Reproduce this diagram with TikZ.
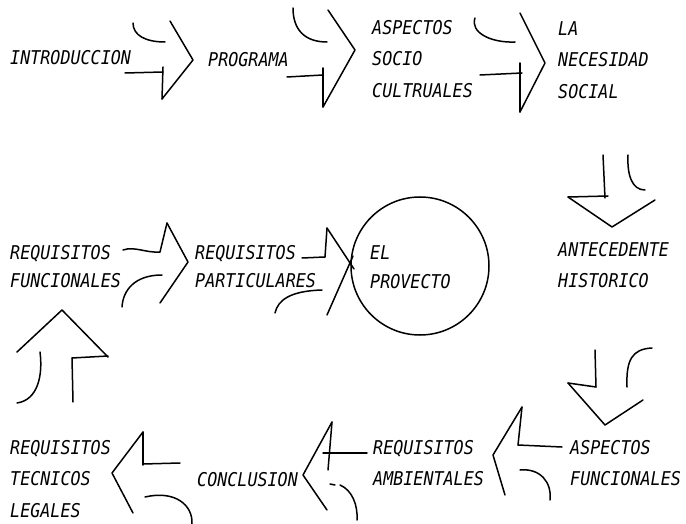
\documentclass[tikz,border=0pt]{standalone}
\usepackage{fontspec}
\newfontfamily\letra[FakeStretch=0.88]{DejaVu Sans Mono}
\begin{document}
\begin{tikzpicture}[x=1pt,y=-1pt]

          \useasboundingbox (0,0) rectangle (686,524);

          \begin{scope}[every node/.style={anchor=north west,inner sep=0pt,align=left,
              font=\fontsize{19}{31.5}\selectfont\letra\itshape}]
            \node (intro)        at (10,50)   {INTRODUCCION};
            \node (programa)     at (208,52)  {PROGRAMA};
            \node (socio)        at (372,20)  {ASPECTOS\\SOCIO\\CULTRUALES};
            \node (necesidad)    at (558,21)  {LA\\NECESIDAD\\SOCIAL};
            \node (antecedente)  at (558,242) {ANTECEDENTE\\HISTORICO};
            \node (asfun)        at (570,440) {ASPECTOS\\FUNCIONALES};
            \node (ambientales)  at (373,440) {REQUISITOS\\AMBIENTALES};
            \node (conclusion)   at (197,472) {CONCLUSION};
            \node (tecnicos)     at (10,440)  {REQUISITOS\\TECNICOS\\LEGALES};
            \node (reqfun)       at (10,245)  {REQUISITOS\\[-3.5pt]FUNCIONALES};
            \node (particulares) at (195,245) {REQUISITOS\\[-3.5pt]PARTICULARES};
            \node (el)           at (370,245) {EL\\[-2pt]PROVECTO};
          \end{scope}

          \node[draw,circle,line width=1.5pt,minimum size=138pt,inner sep=0pt] (circulo) at (420,266) {};

          \begin{scope}[line width=1.5pt,line cap=round,line join=round]
            % introduccion -> programa
            \draw (133,23) .. controls (133,35) and (145,42) .. (165,42);
            \draw (125,73) -- (163,72);
            \draw (163,67) -- (162,99);
            \draw (170,21) -- (193,60) -- (162,99);
            % programa -> aspectos
            \draw (293,8) .. controls (293,30) and (305,42) .. (327,42);
            \draw (287,77) -- (323,75);
            \draw (323,68) -- (323,107);
            \draw (328,10) -- (355,50) -- (323,107);
            % aspectos -> necesidad
            \draw (475,18) .. controls (470,32) and (490,43) .. (515,42);
            \draw (480,75) -- (522,73);
            \draw (520,63) -- (520,112);
            \draw (520,13) -- (545,63) -- (520,112);
            % necesidad -> antecedente
            \draw (603,155) -- (605,198);
            \draw (568,197) -- (608,196);
            \draw (628,155) .. controls (627,175) and (632,190) .. (645,190);
            \draw (568,197) -- (612,227) -- (655,200);
            % antecedente -> aspectos funcionales
            \draw (595,350) -- (596,387);
            \draw (568,383) -- (596,387);
            \draw (652,348) .. controls (632,349) and (626,360) .. (627,387);
            \draw (568,383) -- (605,425) -- (643,400);
            % aspectos funcionales -> ambientales
            \draw (522,407) -- (518,445);
            \draw (518,445) -- (562,447);
            \draw (520,470) .. controls (540,468) and (552,482) .. (550,500);
            \draw (522,407) -- (493,455) -- (505,495);
            % ambientales -> conclusion
            \draw (332,422) -- (328,470);
            \draw (323,453) -- (367,453);
            \draw (330,484) -- (335,485);
            \draw (340,485) .. controls (352,490) and (358,505) .. (357,520);
            \draw (332,422) -- (303,475) -- (327,510);
            % conclusion -> tecnicos
            \draw (143,432) -- (143,465);
            \draw (143,464) -- (180,463);
            \draw (145,497) .. controls (175,490) and (193,505) .. (192,524);
            \draw (143,432) -- (112,473) -- (133,513);
            % tecnicos -> funcionales
            \draw (17,352) -- (62,310) -- (108,357);
            \draw (72,358) -- (108,356);
            \draw (72,358) -- (73,402);
            \draw (40,352) .. controls (43,375) and (38,400) .. (17,403);
            % funcionales -> particulares
            \draw (123,250) .. controls (135,246) and (145,253) .. (160,252) -- (167,223);
            \draw (167,223) -- (188,262) -- (160,303);
            \draw (122,307) .. controls (123,290) and (135,275) .. (162,275);
            % particulares -> proyecto
            \draw (302,258) -- (325,257) -- (327,228);
            \draw (327,228) -- (354,269);
            \draw (327,315) -- (353,256);
            \draw (275,313) .. controls (278,300) and (290,291) .. (322,290);
          \end{scope}

        \end{tikzpicture}
\end{document}
